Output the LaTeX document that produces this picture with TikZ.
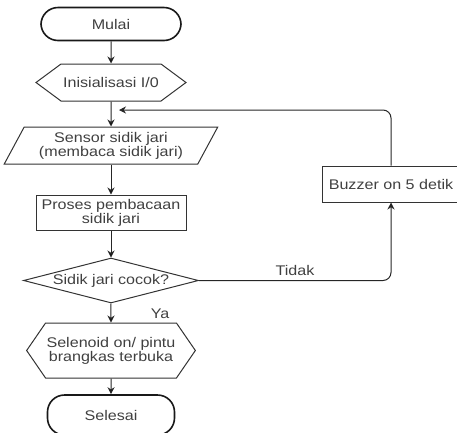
\documentclass[tikz,border=0pt]{standalone}
\usepackage{fontspec}
\setmainfont{Liberation Sans}[FakeStretch=1.15]
\usepackage{tikz}
\usetikzlibrary{shapes.geometric}
\usetikzlibrary{shapes.symbols}
\usetikzlibrary{arrows.meta}
\usetikzlibrary{positioning}

\begin{document}
\begin{tikzpicture}[x=1pt,y=-1pt,node distance=65pt,>={Stealth[length=7pt,width=7pt]},
	every node/.style={font=\fontsize{14}{13}\selectfont, text=black!75},
	term node/.style={rectangle, rounded corners=17pt, draw=black!90, line width=1.6pt, minimum width=140pt, minimum height=33pt},
	hex node/.style={signal, signal to=west and east, signal pointer angle=#1, draw=black!80, line width=1pt, align=center, inner sep=1pt},
	io node/.style={trapezium, trapezium left angle=60, trapezium right angle=120, trapezium stretches=true, draw=black!80, line width=1pt, align=center, minimum width=214pt, minimum height=37pt, inner sep=1pt},
	proc node/.style={rectangle, draw=black!80, line width=1pt, align=center, inner sep=2pt},
	dec node/.style={diamond, draw=black!80, line width=1pt, aspect=3.9, inner sep=0pt, minimum width=175pt, minimum height=45pt}]
			\useasboundingbox (0,0) rectangle (457,432);
			% Nodes
			\node [term node] (mulai) at (111,24) {Mulai};
			\node[hex node=73, minimum width=150pt, minimum height=37pt] (init) [below of=mulai, yshift=6.5pt] {Inisialisasi I/0};
			\node[io node] (sensor) [below of=init, yshift=2pt] {Sensor sidik jari\\(membaca sidik jari)};
			\node[proc node, minimum width=150pt, minimum height=35pt] (proses) [below of=sensor, yshift=-2pt] {Proses pembacaan\\sidik jari};
			\node[dec node] (cek) [below of=proses, yshift=-3pt] {Sidik jari cocok?};
			\node[hex node=111, minimum width=165pt, minimum height=55pt] (buka) [below of=cek, yshift=-5pt] {Selenoid on/ pintu\\brangkas terbuka};
			\node[term node, minimum width=127pt, minimum height=40pt] (selesai) [below of=buka, yshift=0.5pt] {Selesai};
			\node[proc node, minimum width=138pt, minimum height=36pt] (buzzer) at (391,184) {Buzzer on 5 detik};
			\coordinate (balik) at (119,110);
			
			\path[->, draw=black!85, line width=1pt]
			(mulai) edge (init)
			(init) edge (sensor)
			(sensor) edge (proses)
			(proses) edge (cek)
			(cek) edge node[right, xshift=36pt, yshift=-1pt] {Ya} (buka)
			(buka) edge (selesai);
			
			\draw[->, draw=black!85, line width=1pt, rounded corners=8pt] (cek.east) -| node[pos=0.25, above, yshift=1pt] {Tidak} (buzzer.south);
			\draw[->, draw=black!85, line width=1pt, rounded corners=8pt] (buzzer.north) |- (balik);
			
		\end{tikzpicture}
\end{document}
